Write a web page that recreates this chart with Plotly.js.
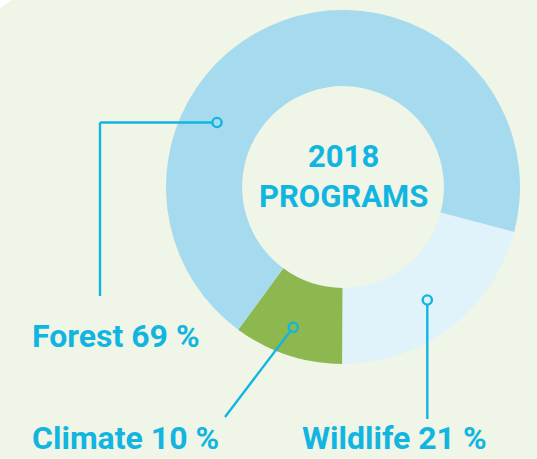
<!DOCTYPE html>
<html>
<head>
<meta charset="utf-8">
<script src="https://cdn.plot.ly/plotly-3.0.1.min.js"></script>
<style>
  html, body { margin: 0; padding: 0; background: #eff5e7; }
  #chart { width: 537px; height: 459px; }
</style>
</head>
<body>
<div id="chart"></div>
<script>
// ---- data ----
const categories = ["Wildlife", "Climate", "Forest"];
const values = [21, 10, 69];
const sliceColors = ["#e0f3fa", "#8db74f", "#a6daee"];
const centerTitle = ["2018", "PROGRAMS"];

const W = 537, H = 459;
const TEXT = "#12b5e0";
const FONT = "Roboto, 'Open Sans', sans-serif";

// pixel helpers -> paper coords
const px = x => x / W;
const py = y => 1 - y / H;

// donut geometry (pixels)
const cx = 343, cy = 187, R = 177;

const trace = {
  type: "pie",
  labels: categories,
  values: values,
  sort: false,
  direction: "clockwise",
  rotation: 104.7,
  hole: 0.57,
  marker: { colors: sliceColors, line: { width: 0 } },
  textinfo: "none",
  hoverinfo: "label+percent",
  showlegend: false,
  domain: { x: [px(cx - R), px(cx + R)], y: [py(cy + R), py(cy - R)] }
};

const lineStyle = { color: TEXT, width: 2.4 };
function seg(x0, y0, x1, y1) {
  return { type: "line", xref: "paper", yref: "paper",
           x0: px(x0), y0: py(y0), x1: px(x1), y1: py(y1), line: lineStyle };
}
function dot(x, y) {
  const r = 4.6;
  return { type: "circle", xref: "paper", yref: "paper",
           x0: px(x - r), x1: px(x + r), y0: py(y + r), y1: py(y - r),
           line: lineStyle, fillcolor: "rgba(0,0,0,0)" };
}

const shapes = [
  // top-left corner cut
  { type: "path", xref: "paper", yref: "paper",
    path: `M 0 1 L ${px(12)} 1 L 0 ${py(8)} Z`, fillcolor: "#ffffff", line: { width: 0 } },
  // Forest leader
  seg(212.4, 122.5, 100, 122.5),
  seg(100, 122.5, 100, 296),
  dot(217, 122.5),
  // Climate leader
  seg(290.4, 331, 225, 417),
  dot(293.3, 327.3),
  // Wildlife leader
  seg(427.3, 304.6, 427.3, 419),
  dot(427.3, 300)
];

function pct(i) { return categories[i] + " " + values[i] + " %"; }

const labelFont = { family: FONT, size: 32, color: TEXT };
const annotations = [
  { text: "<b>" + pct(2) + "</b>", x: px(30), y: py(335.5), xanchor: "left", yanchor: "middle",
    showarrow: false, xref: "paper", yref: "paper", font: labelFont },
  { text: "<b>" + pct(1) + "</b>", x: px(30), y: 0, xanchor: "left", yanchor: "bottom",
    showarrow: false, xref: "paper", yref: "paper", font: labelFont },
  { text: "<b>" + pct(0) + "</b>", x: px(300), y: 0, xanchor: "left", yanchor: "bottom",
    showarrow: false, xref: "paper", yref: "paper", font: labelFont },
  { text: "<b>" + centerTitle.join("<br>") + "</b>", x: px(cx), y: py(176.5),
    xanchor: "center", yanchor: "middle", align: "center",
    showarrow: false, xref: "paper", yref: "paper",
    font: { family: FONT, size: 31, color: TEXT } }
];

const layout = {
  width: W, height: H,
  margin: { l: 0, r: 0, t: 0, b: 0 },
  paper_bgcolor: "#eff5e7",
  plot_bgcolor: "#eff5e7",
  shapes: shapes,
  annotations: annotations
};

Plotly.newPlot("chart", [trace], layout, { displayModeBar: false, staticPlot: true });
</script>
</body>
</html>
